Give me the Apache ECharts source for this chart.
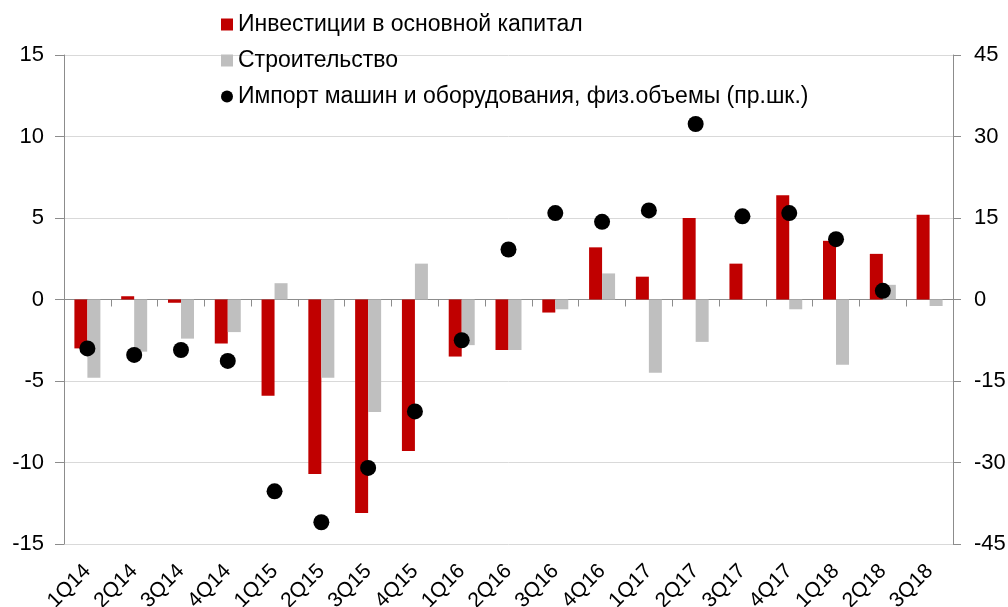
<!DOCTYPE html>
<html lang="ru" style="height: 100%">
<head>
  <meta charset="utf-8">
</head>
<body style="height: 100%; margin: 0; background: #fff">
  <div id="container" style="width: 1008px; height: 607px"></div>

  <script type="text/javascript" src="https://fastly.jsdelivr.net/npm/echarts@6/dist/echarts.min.js"></script>

  <script type="text/javascript">
    var quarters = ['1Q14', '2Q14', '3Q14', '4Q14', '1Q15', '2Q15', '3Q15', '4Q15', '1Q16', '2Q16',
                    '3Q16', '4Q16', '1Q17', '2Q17', '3Q17', '4Q17', '1Q18', '2Q18', '3Q18'];
    var investment = [-3.0, 0.2, -0.2, -2.7, -5.9, -10.7, -13.1, -9.3, -3.5, -3.1,
                      -0.8, 3.2, 1.4, 5.0, 2.2, 6.4, 3.6, 2.8, 5.2];
    var construction = [-4.8, -3.2, -2.4, -2.0, 1.0, -4.8, -6.9, 2.2, -2.8, -3.1,
                        -0.6, 1.6, -4.5, -2.6, 0, -0.6, -4.0, 0.9, -0.4];
    var imports = [-9.0, -10.2, -9.3, -11.3, -35.3, -41.0, -31.0, -20.6, -7.5, 9.2,
                   15.9, 14.3, 16.4, 32.3, 15.3, 15.9, 11.1, 1.6, null];

    var dom = document.getElementById('container');
    var myChart = echarts.init(dom, null, { renderer: 'canvas' });

    var font = 'Liberation Sans, Arial, sans-serif';
    var axisGray = '#8c8c8c';

    var option = {
      animation: false,
      textStyle: { fontFamily: font },
      legend: {
        orient: 'vertical',
        left: 216,
        top: 8,
        itemGap: 13,
        itemWidth: 12,
        itemHeight: 12,
        textStyle: { fontSize: 23, color: '#000', fontFamily: font },
        data: [
          { name: 'Инвестиции в основной капитал', icon: 'rect' },
          { name: 'Строительство', icon: 'rect' },
          { name: 'Импорт машин и оборудования, физ.объемы (пр.шк.)', icon: 'circle' }
        ]
      },
      grid: { left: 64, right: 55, top: 55, bottom: 63, containLabel: false, outerBoundsMode: 'none' },
      xAxis: [
        {
          // labels only, at the bottom of the plot
          type: 'category',
          data: quarters,
          position: 'bottom',
          axisLine: { show: false, onZero: false },
          axisTick: { show: false },
          axisLabel: {
            interval: 0,
            rotate: 45,
            fontSize: 21,
            color: '#000',
            fontFamily: font,
            margin: 24
          }
        },
        {
          // line and ticks at zero
          type: 'category',
          data: quarters,
          position: 'bottom',
          axisLine: { onZero: true, lineStyle: { color: axisGray, width: 1 } },
          axisTick: { show: true, length: 7, lineStyle: { color: axisGray } },
          axisLabel: { show: false }
        }
      ],
      yAxis: [
        {
          type: 'value',
          min: -15,
          max: 15,
          interval: 5,
          axisLine: { show: true, lineStyle: { color: axisGray } },
          axisTick: { show: true, length: 9, lineStyle: { color: axisGray } },
          splitLine: { lineStyle: { color: '#d9d9d9' } },
          axisLabel: { fontSize: 22, color: '#000', margin: 20, fontFamily: font }
        },
        {
          type: 'value',
          min: -45,
          max: 45,
          interval: 15,
          axisLine: { show: true, lineStyle: { color: axisGray } },
          axisTick: { show: true, length: 8, lineStyle: { color: axisGray } },
          splitLine: { show: false },
          axisLabel: { fontSize: 22, color: '#000', margin: 21, fontFamily: font }
        }
      ],
      series: [
        {
          name: 'Инвестиции в основной капитал',
          type: 'bar',
          data: investment,
          barWidth: 13,
          barGap: '0%',
          itemStyle: { color: '#c00000' }
        },
        {
          name: 'Строительство',
          type: 'bar',
          data: construction,
          barWidth: 13,
          itemStyle: { color: '#bfbfbf' }
        },
        {
          name: 'Импорт машин и оборудования, физ.объемы (пр.шк.)',
          type: 'scatter',
          yAxisIndex: 1,
          data: imports,
          symbol: 'circle',
          symbolSize: 16,
          itemStyle: { color: '#000', opacity: 1 }
        }
      ]
    };

    myChart.setOption(option);
    window.addEventListener('resize', myChart.resize);
  </script>
</body>
</html>
